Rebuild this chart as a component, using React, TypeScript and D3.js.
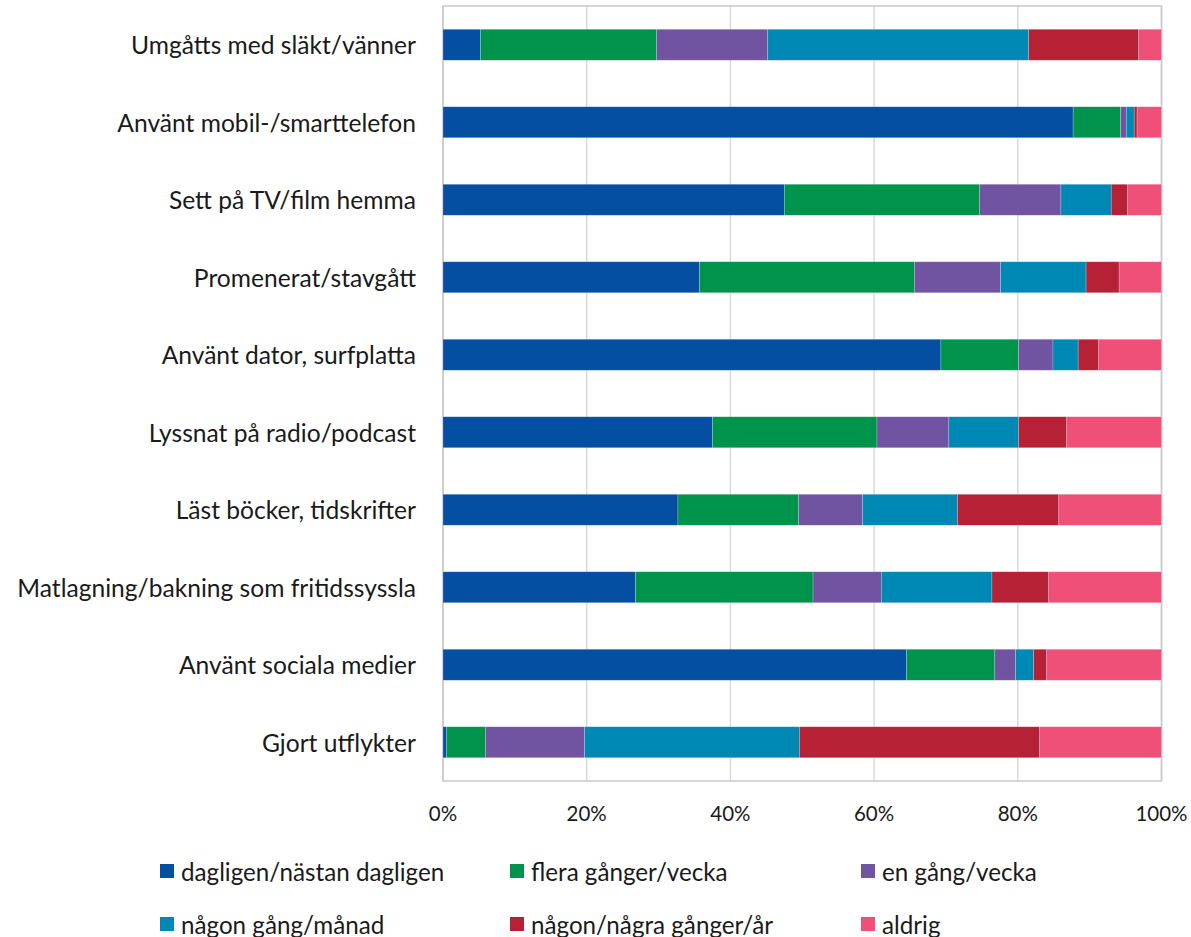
import React from "react";
import * as d3 from "d3";

const categories = [
  "Umgåtts med släkt/vänner",
  "Använt mobil-/smarttelefon",
  "Sett på TV/film hemma",
  "Promenerat/stavgått",
  "Använt dator, surfplatta",
  "Lyssnat på radio/podcast",
  "Läst böcker, tidskrifter",
  "Matlagning/bakning som fritidssyssla",
  "Använt sociala medier",
  "Gjort utflykter",
];

const seriesNames = [
  "dagligen/nästan dagligen",
  "flera gånger/vecka",
  "en gång/vecka",
  "någon gång/månad",
  "någon/några gånger/år",
  "aldrig",
];

const dagligen = [5.2, 87.7, 47.5, 35.7, 69.3, 37.5, 32.7, 26.8, 64.5, 0.5];
const fleraGanger = [24.5, 6.6, 27.2, 29.9, 10.8, 22.9, 16.8, 24.7, 12.3, 5.4];
const enGang = [15.5, 0.8, 11.3, 12.0, 4.8, 10.0, 8.9, 9.5, 2.9, 13.8];
const manad = [36.3, 1.1, 7.0, 11.9, 3.5, 9.7, 13.2, 15.4, 2.5, 29.9];
const ar = [15.3, 0.4, 2.3, 4.6, 2.8, 6.7, 14.1, 7.9, 1.8, 33.4];
const aldrig = [3.2, 3.4, 4.7, 5.9, 8.8, 13.2, 14.3, 15.7, 16.0, 17.0];

const tickValues = [0, 20, 40, 60, 80, 100];

const colors = ["#054fa2", "#00934b", "#7054a1", "#0088b5", "#b72136", "#ef5078"];

const W = 1191;
const H = 937;
const M = { left: 443, right: 1161.5, top: 6, bottom: 781 };
const FONT = "Lato, 'Open Sans', sans-serif";

export default function App() {
  const seriesValues = [dagligen, fleraGanger, enGang, manad, ar, aldrig];
  const rows = categories.map((c, i) => {
    const r: Record<string, number | string> = { cat: c };
    seriesNames.forEach((s, k) => (r[s] = seriesValues[k][i]));
    return r;
  });
  const stack = d3.stack<any>().keys(seriesNames).offset(d3.stackOffsetExpand);
  const stacked = stack(rows);

  const x = d3.scaleLinear().domain([0, 1]).range([M.left, M.right]);
  const y = d3
    .scaleBand<string>()
    .domain(categories)
    .range([M.top, M.bottom])
    .paddingInner(0.6)
    .paddingOuter(0.3);

  const legendCols = [160, 510, 861];
  const legendRows = [871, 924];

  return (
    <svg
      width={W}
      height={H}
      style={{ position: "absolute", left: 0, top: 0, background: "#fff" }}
      fontFamily={FONT}
    >
      <rect x={0} y={0} width={W} height={H} fill="#fff" />
      {tickValues.map((t) => (
        <line
          key={"g" + t}
          x1={x(t / 100)}
          x2={x(t / 100)}
          y1={M.top}
          y2={M.bottom}
          stroke="#d9d9d9"
          strokeWidth={1.5}
        />
      ))}
      <rect
        x={M.left}
        y={M.top}
        width={M.right - M.left}
        height={M.bottom - M.top}
        fill="none"
        stroke="#c8c8c8"
        strokeWidth={1.5}
      />
      {stacked.map((layer, k) => (
        <g key={layer.key} fill={colors[k]}>
          {layer.map((d, i) => (
            <rect
              key={i}
              x={x(d[0])}
              width={Math.max(0, x(d[1]) - x(d[0]))}
              y={y(categories[i])}
              height={y.bandwidth()}
              stroke="#ffffff"
              strokeOpacity={0.35}
              strokeWidth={0.6}
            />
          ))}
        </g>
      ))}
      {categories.map((c) => (
        <text
          key={c}
          x={416}
          y={(y(c) as number) + y.bandwidth() / 2}
          textAnchor="end"
          dominantBaseline="central"
          fontSize={24.6}
          fill="#1a1a1a"
        >
          {c}
        </text>
      ))}
      {tickValues.map((t) => (
        <text
          key={"t" + t}
          x={x(t / 100)}
          y={813}
          textAnchor="middle"
          dominantBaseline="central"
          fontSize={20.5}
          fill="#1a1a1a"
        >
          {t + "%"}
        </text>
      ))}
      {seriesNames.map((s, k) => {
        const cx = legendCols[k % 3];
        const cy = legendRows[Math.floor(k / 3)];
        return (
          <g key={s}>
            <rect x={cx} y={cy - 7} width={14} height={14} fill={colors[k]} />
            <text
              x={cx + 21}
              y={cy}
              dominantBaseline="central"
              fontSize={24.2}
              fill="#1a1a1a"
            >
              {s}
            </text>
          </g>
        );
      })}
    </svg>
  );
}
